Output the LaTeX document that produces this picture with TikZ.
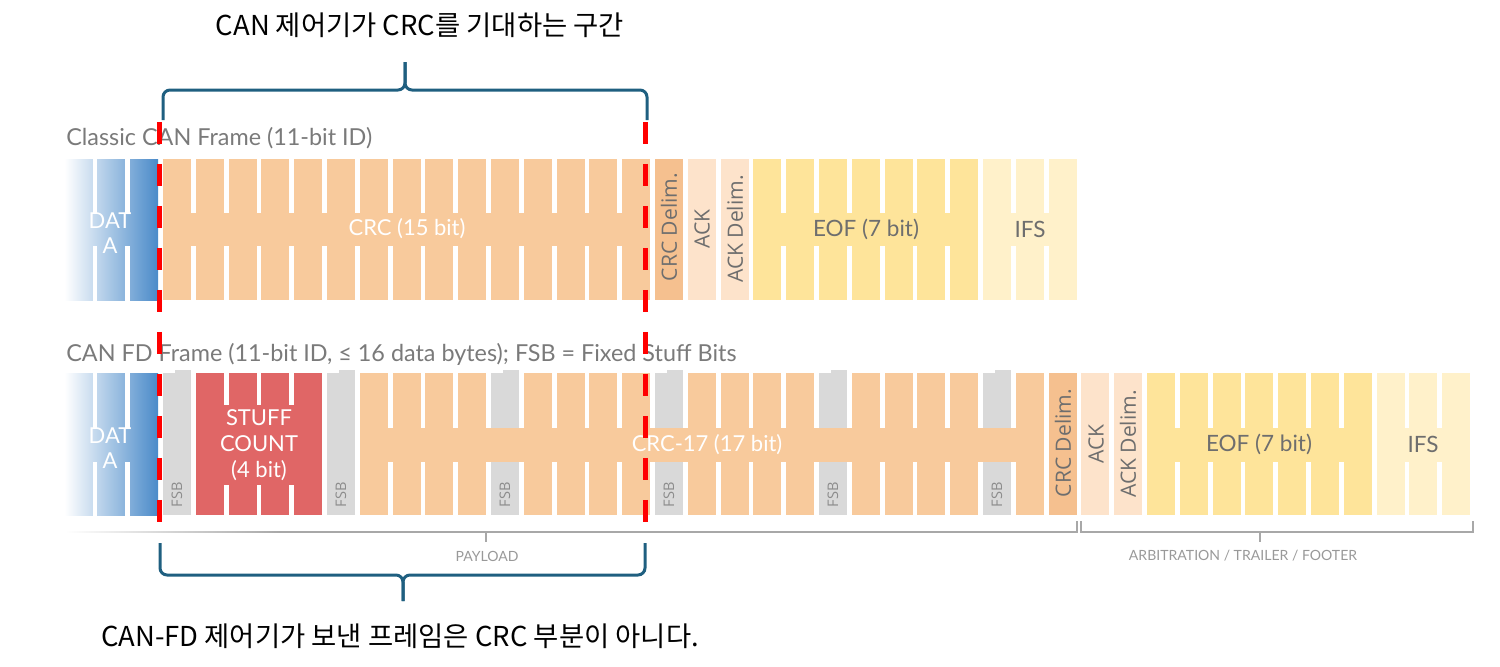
\documentclass[tikz,border=0pt]{standalone}
\usepackage{fontspec}
\usepackage{tikz}
\usetikzlibrary{calc}
\setmainfont{Lato}
\newfontfamily\delimfont{Open Sans}
\newfontfamily\krfont{Noto Sans CJK KR}
\definecolor{datablue}{HTML}{4A8AC9}
\definecolor{crcorange}{HTML}{F8CA9C}
\definecolor{delimorange}{HTML}{F5C08F}
\definecolor{ackpeach}{HTML}{FDE3CB}
\definecolor{eofyellow}{HTML}{FEE49A}
\definecolor{ifsyellow}{HTML}{FFF1CA}
\definecolor{stuffred}{HTML}{E06666}
\definecolor{fsbgray}{HTML}{D9D9D9}
\definecolor{titlegray}{HTML}{7A7A7A}
\definecolor{labelgray}{HTML}{6E6E6E}
\definecolor{fsbtext}{HTML}{8C8C8C}
\definecolor{seggray}{HTML}{999999}
\definecolor{bracegray}{HTML}{A8A8A8}
\definecolor{bracecol}{HTML}{1F5F80}
\definecolor{cutred}{HTML}{FF0000}

% one field: slots #1..#2, rows #3..#4, notch band #5..#6, paint #7
\newcommand{\bitfield}[7]{%
  \path[#7] ({163+#1*32.8},#3) rectangle ({163+#2*32.8+28},#4);
  \foreach \k in {#1,...,#2} {
    \ifnum\k<#2
      \fill[white] ({163+\k*32.8+28},{#3-1}) rectangle ({163+\k*32.8+32.8},#5);
      \fill[white] ({163+\k*32.8+28},#6) rectangle ({163+\k*32.8+32.8},{#4+1});
    \fi
  }%
}

\begin{document}
\begin{tikzpicture}[x=0.02cm, y=-0.02cm,
    title/.style={font=\fontsize{13.3}{15}\selectfont, text=titlegray, inner sep=0pt},
    onbit/.style={font=\fontsize{12.5}{14.2}\selectfont, text=white, inner sep=0pt, align=center},
    inbit/.style={font=\fontsize{12.8}{14}\selectfont, text=labelgray, inner sep=0pt},
    vlabel/.style={font=\delimfont\fontsize{12}{13}\selectfont, text=labelgray, rotate=90, inner sep=0pt},
    fsblabel/.style={font=\delimfont\fontsize{8.3}{9}\selectfont, text=fsbtext, rotate=90, inner sep=0pt},
    seglabel/.style={font=\fontsize{8}{9}\selectfont, text=seggray, inner sep=0pt},
    krtext/.style={font=\krfont\fontsize{15.6}{18}\selectfont, text=black, inner sep=0pt},
    cutline/.style={cutred, line width=0.1cm, dash pattern=on 0.44cm off 0.4cm},
    bracestyle/.style={bracecol, line width=0.06cm, rounded corners=0.14cm},
    bracketline/.style={bracegray, line width=0.03cm}]
  \useasboundingbox (0,0) rectangle (1500,666);

  % ======= Classic CAN frame (top row) =======
  \node[title, anchor=west] (classictitle) at (66,138) {Classic CAN Frame (11-bit ID)};

  \bitfield{-3}{-1}{159}{300}{213}{246}{left color=white, right color=datablue}
  \bitfield{0}{14}{159}{300}{213}{246}{fill=crcorange}
  \bitfield{15}{15}{159}{300}{213}{246}{fill=delimorange}
  \bitfield{16}{16}{159}{300}{213}{246}{fill=ackpeach}
  \bitfield{17}{17}{159}{300}{213}{246}{fill=ackpeach}
  \bitfield{18}{24}{159}{300}{213}{246}{fill=eofyellow}
  \bitfield{25}{27}{159}{300}{213}{246}{fill=ifsyellow}

  \node[onbit] (classicdata) at (110,233) {DAT\\A};
  \node[onbit] (classiccrc) at (407,229) {CRC (15 bit)};
  \node[vlabel] (classiccrcdelim) at (669,227) {CRC Delim.};
  \node[vlabel] (classicack) at (702,229) {ACK};
  \node[vlabel] (classicackdelim) at (735,229) {ACK Delim.};
  \node[inbit] (classiceof) at (866,229) {EOF (7 bit)};
  \node[inbit] (classicifs) at (1030,229) {IFS};

  % ======= CAN FD frame (bottom row) =======
  \node[title, anchor=west] (fdtitle) at (66,354) {CAN FD Frame (11-bit ID, ≤ 16 data bytes); FSB = Fixed Stuff Bits};

  \bitfield{-3}{-1}{373}{515}{428}{462}{left color=white, right color=datablue}
  \bitfield{1}{4}{373}{515}{405}{485}{fill=stuffred}
  \bitfield{6}{26}{373}{515}{428}{462}{fill=crcorange}
  \bitfield{27}{27}{373}{515}{428}{462}{fill=delimorange}
  \bitfield{28}{28}{373}{515}{428}{462}{fill=ackpeach}
  \bitfield{29}{29}{373}{515}{428}{462}{fill=ackpeach}
  \bitfield{30}{36}{373}{515}{428}{462}{fill=eofyellow}
  \bitfield{37}{39}{373}{515}{428}{462}{fill=ifsyellow}

  % fixed stuff bits (full height before/after stuff count)
  \foreach \k in {0,5} {
    \fill[fsbgray] ({163+\k*32.8},373) rectangle ({163+\k*32.8+28},515);
    \fill[fsbgray] ({163+\k*32.8+12},370) rectangle ({163+\k*32.8+28},374);
  }
  % fixed stuff bits inside the CRC (band stays orange)
  \foreach \k in {10,15,20,25} {
    \fill[fsbgray] ({163+\k*32.8},373) rectangle ({163+\k*32.8+28},428);
    \fill[fsbgray] ({163+\k*32.8+12},370) rectangle ({163+\k*32.8+28},374);
    \fill[fsbgray] ({163+\k*32.8},462) rectangle ({163+\k*32.8+28},515);
  }
  \foreach \k/\n in {0/a,5/b,10/c,15/d,20/e,25/f}
    \node[fsblabel] (fsb\n) at ({177+\k*32.8},495) {FSB};

  \node[onbit] (fddata) at (110,448) {DAT\\A};
  \node[onbit, font=\fontsize{12.5}{15}\selectfont] (fdstuff) at (259,445) {STUFF\\COUNT\\(4 bit)};
  \node[onbit] (fdcrc) at (707,445) {CRC-17 (17 bit)};
  \node[vlabel] (fdcrcdelim) at (1063,443) {CRC Delim.};
  \node[vlabel] (fdack) at (1096,444) {ACK};
  \node[vlabel] (fdackdelim) at (1128,444) {ACK Delim.};
  \node[inbit] (fdeof) at (1259,444) {EOF (7 bit)};
  \node[inbit] (fdifs) at (1423,444) {IFS};

  % ======= segment brackets under the FD frame =======
  \coordinate (payR) at (1077,521);
  \coordinate (trL) at (1081,521);
  \coordinate (trR) at (1473,521);
  \fill[left color=white, right color=bracegray] (65,531.2) rectangle (280,532.8);
  \draw[bracketline] (280,532) -| (payR);
  \draw[bracketline] (486,532) -- (486,542);
  \node[seglabel] (payload) at (487,556) {PAYLOAD};
  \draw[bracketline] (trL) -- ++(0,11) -| (trR);
  \draw[bracketline] (1260,532) -- (1260,542);
  \node[seglabel] (trailer) at (1243,556) {ARBITRATION / TRAILER / FOOTER};

  % ======= CRC window cut lines =======
  \coordinate (cutL) at (159,122);
  \coordinate (cutLb) at (159,522);
  \coordinate (cutR) at (645,122);
  \coordinate (cutRb) at (645,522);
  \draw[cutline] (cutL) -- (cutLb);
  \draw[cutline] (cutR) -- (cutRb);

  % ======= braces and notes =======
  \node[krtext] (expectnote) at (420,25) {CAN 제어기가 CRC를 기대하는 구간};
  \coordinate (tbL) at (163,120);
  \coordinate (tbR) at (647,120);
  \coordinate (tbTip) at (405,62);
  \draw[bracestyle] (tbL) -- ++(0,-30) -| (tbTip);
  \draw[bracestyle] (tbR) -- ++(0,-30) -| (tbTip);

  \coordinate (bbL) at (160,543);
  \coordinate (bbR) at (645,543);
  \coordinate (bbTip) at (403,601);
  \draw[bracestyle] (bbL) -- ++(0,32) -| (bbTip);
  \draw[bracestyle] (bbR) -- ++(0,32) -| (bbTip);
  \node[krtext] (sentnote) at (400,636) {CAN-FD 제어기가 보낸 프레임은 CRC 부분이 아니다.};
\end{tikzpicture}
\end{document}
